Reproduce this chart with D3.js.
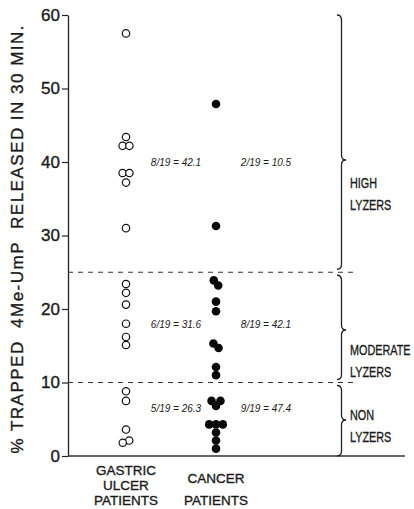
<!DOCTYPE html>
<html>
<head>
<meta charset="utf-8">
<script src="https://cdn.jsdelivr.net/npm/d3@7"></script>
<style>
  body { margin: 0; background: #fff; }
  text { font-family: "Liberation Sans", Arial, sans-serif; fill: #1a1a1a; }
  .heavy { stroke: #1a1a1a; stroke-width: 0.35px; }
</style>
</head>
<body>
<svg id="chart"></svg>
<script>
// values (% trapped 4Me-UmP released in 30 min)
var groups = ["GASTRIC ULCER PATIENTS", "CANCER PATIENTS"];
var groupLines = [["GASTRIC", "ULCER", "PATIENTS"], ["CANCER", "", "PATIENTS"]];
var gastricValues = [57.5, 43.4, 42.2, 42.2, 38.5, 38.5, 37.2, 31.0,
                     23.4, 22.2, 20.6, 18.0, 16.2, 15.1,
                     8.8, 7.5, 3.6, 2.1, 1.8];
var cancerValues = [47.9, 31.3,
                    23.9, 23.2, 21.0, 19.7, 15.3, 14.7, 12.1, 11.0,
                    7.5, 7.5, 6.8, 4.3, 4.3, 4.3, 3.2, 2.1, 1.0];
var gastricRatios = ["8/19 = 42.1", "6/19 = 31.6", "5/19 = 26.3"];
var cancerRatios = ["2/19 = 10.5", "8/19 = 42.1", "9/19 = 47.4"];
var zoneNames = [["HIGH", "LYZERS"], ["MODERATE", "LYZERS"], ["NON", "LYZERS"]];
var zoneBounds = [[25, 60], [10, 25], [0, 10]];
var cutoffs = [25, 10];
var yTicks = [0, 10, 20, 30, 40, 50, 60];

var width = 414, height = 509;
var svg = d3.select("#chart").attr("width", width).attr("height", height);

var y = d3.scaleLinear().domain([0, 60]).range([456, 15]);
var x = d3.scalePoint().domain(groups).range([126, 216]);
var axisX = 68;

// y axis
var yAxis = svg.append("g")
    .attr("transform", "translate(" + axisX + ",0)")
    .call(d3.axisLeft(y).tickValues(yTicks).tickSize(6).tickSizeOuter(0).tickPadding(2));
yAxis.select(".domain").attr("stroke", "#222").attr("stroke-width", 1.3);
yAxis.selectAll(".tick line").attr("stroke", "#222").attr("stroke-width", 1.2);
yAxis.selectAll(".tick text")
    .attr("class", "heavy")
    .attr("font-family", "Liberation Sans, Arial, sans-serif")
    .attr("font-size", 17)
    .attr("fill", "#1a1a1a");

// baseline
svg.append("line")
    .attr("x1", axisX).attr("x2", 405)
    .attr("y1", y(0)).attr("y2", y(0))
    .attr("stroke", "#333").attr("stroke-width", 1.3);

// y title
svg.append("text")
    .attr("class", "heavy")
    .attr("transform", "translate(23," + (y(30) + 4) + ") rotate(-90)")
    .attr("text-anchor", "middle")
    .attr("font-size", 17)
    .attr("textLength", 428)
    .attr("lengthAdjust", "spacing")
    .style("white-space", "pre")
    .text("% TRAPPED  4Me-UmP  RELEASED IN 30 MIN.");

// dashed cut-off lines
svg.selectAll(".cut")
    .data(cutoffs)
  .enter().append("line")
    .attr("class", "cut")
    .attr("x1", axisX).attr("x2", 358)
    .attr("y1", d => y(d)).attr("y2", d => y(d))
    .attr("stroke", "#333").attr("stroke-width", 1)
    .attr("stroke-dasharray", "5,5");

// dots: dodge overlapping points sideways with a collide force
function layout(values, cx) {
  var nodes = values.map(v => ({ v: v, fy: y(v), x: cx }));
  nodes.forEach((n, i) => { n.x = cx + (i % 2 ? 0.5 : -0.5) * (i % 3); });
  var sim = d3.forceSimulation(nodes)
      .force("x", d3.forceX(cx).strength(0.08))
      .force("collide", d3.forceCollide(3.4))
      .stop();
  for (var i = 0; i < 300; i++) sim.tick();
  return nodes;
}

var gastricNodes = layout(gastricValues, x(groups[0]));
var cancerNodes = layout(cancerValues, x(groups[1]));

svg.selectAll(".open")
    .data(gastricNodes)
  .enter().append("circle")
    .attr("class", "open")
    .attr("cx", d => d.x).attr("cy", d => d.fy)
    .attr("r", 3.7)
    .attr("fill", "#fff")
    .attr("stroke", "#111").attr("stroke-width", 1.2);

svg.selectAll(".filled")
    .data(cancerNodes)
  .enter().append("circle")
    .attr("class", "filled")
    .attr("cx", d => d.x).attr("cy", d => d.fy)
    .attr("r", 4.3)
    .attr("fill", "#0a0a0a");

// ratio labels in each zone
var ratioY = [40, 18, 6.5];
function ratios(labels, cx) {
  svg.selectAll(null)
      .data(labels)
    .enter().append("text")
      .attr("x", cx)
      .attr("y", (d, i) => y(ratioY[i]) + 4)
      .attr("text-anchor", "middle")
      .attr("font-size", 10)
      .attr("font-style", "italic")
      .text(d => d);
}
ratios(gastricRatios, 176);
ratios(cancerRatios, 266);

// braces on the right
var braceX = 337, braceW = 9;
var tipY = [160, 330, 420];
function bracePath(y1, y2, ty) {
  var m = braceX + braceW / 2, e = braceX + braceW;
  return "M" + braceX + "," + y1 +
    " Q" + m + "," + y1 + " " + m + "," + (y1 + 5) +
    " L" + m + "," + (ty - 5) +
    " Q" + m + "," + ty + " " + e + "," + ty +
    " Q" + m + "," + ty + " " + m + "," + (ty + 5) +
    " L" + m + "," + (y2 - 5) +
    " Q" + m + "," + y2 + " " + braceX + "," + y2;
}
svg.selectAll(".brace")
    .data(zoneBounds)
  .enter().append("path")
    .attr("class", "brace")
    .attr("d", (d, i) => bracePath(y(d[1]) + (i === 0 ? 0 : 3), y(d[0]) - (i === 2 ? 0 : 3), tipY[i]))
    .attr("fill", "none")
    .attr("stroke", "#222").attr("stroke-width", 1.3);

// zone names (condensed like the original lettering)
var nameY = [188, 355, 420];
zoneNames.forEach(function(lines, i) {
  var t = svg.append("text")
      .attr("class", "heavy")
      .attr("transform", "translate(350," + nameY[i] + ") scale(0.7,1)")
      .attr("font-size", 15.5);
  t.selectAll("tspan")
      .data(lines)
    .enter().append("tspan")
      .attr("x", 0)
      .attr("dy", (d, j) => j === 0 ? 0 : 22)
      .text(d => d);
});

// category labels
groupLines.forEach(function(lines, i) {
  var cx = x(groups[i]);
  svg.selectAll(null)
      .data(lines)
    .enter().append("text")
      .attr("class", "heavy")
      .attr("x", cx)
      .attr("y", (d, j) => (i === 1 && j === 0) ? 483 : 475 + j * 15)
      .attr("text-anchor", "middle")
      .attr("font-size", 13.5)
      .text(d => d);
});
</script>
</body>
</html>
